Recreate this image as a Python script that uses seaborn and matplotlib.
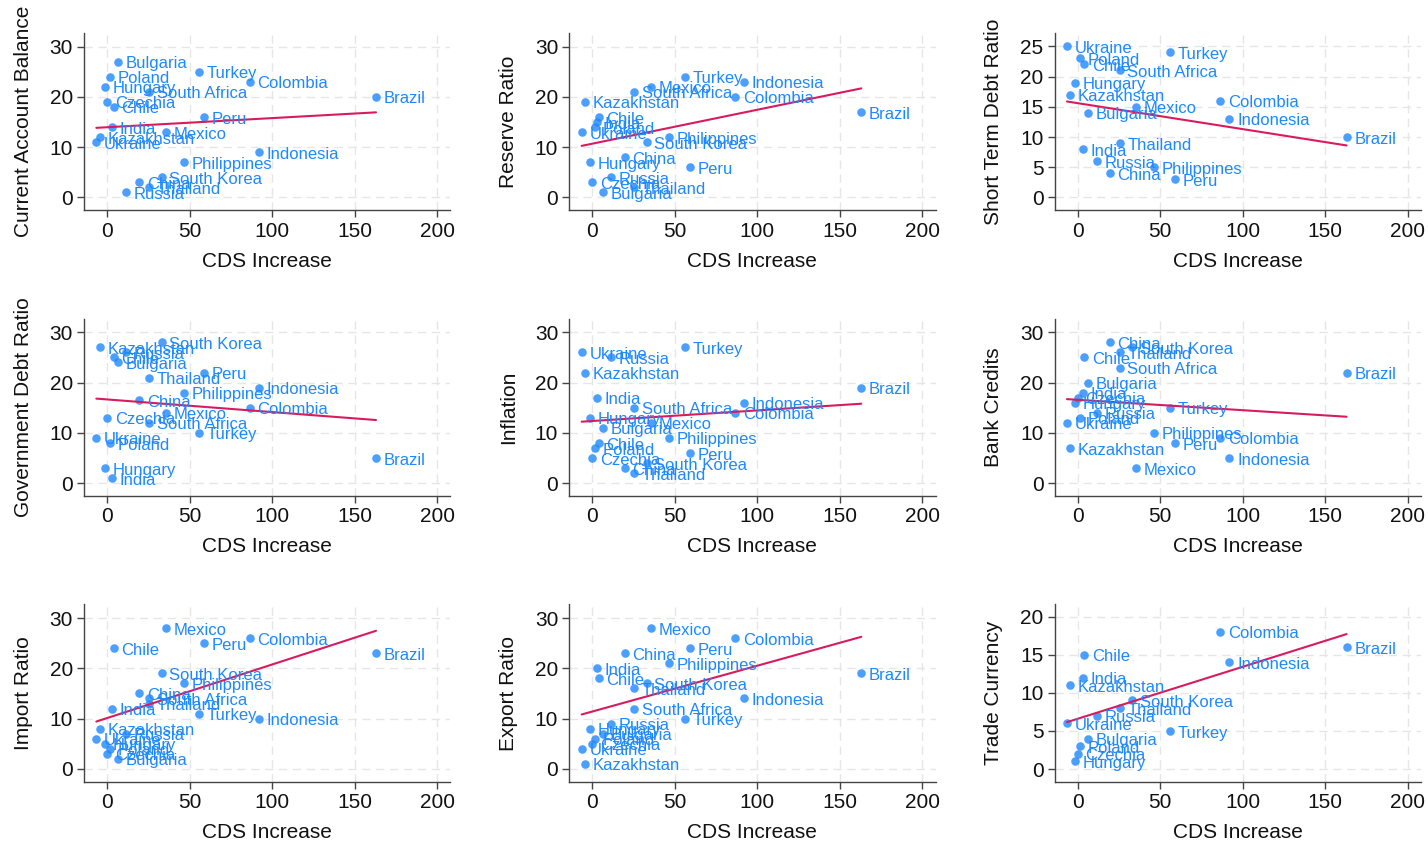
import numpy as np
import pandas as pd
import matplotlib
matplotlib.use("Agg")
import matplotlib.pyplot as plt
import seaborn as sns

countries = ["Brazil", "Bulgaria", "Chile", "China", "Colombia", "Czechia", "Hungary",
             "India", "Indonesia", "Kazakhstan", "Mexico", "Peru", "Philippines", "Poland",
             "Russia", "South Africa", "South Korea", "Thailand", "Turkey", "Ukraine"]
cds_increase = [163, 6.5, 4, 19.5, 86.5, 0, -1.5, 3, 92, -4.5, 35.5, 59, 46.5, 1.5,
                11.5, 25.5, 33, 25.5, 56, -6.5]

nan = np.nan
current_account = [20, 27, 18, 3, 23, 19, 22, 14, 9, 12, 13, 16, 7, 24, 1, 21, 4, 2, 25, 11]
reserve_ratio = [17, 1, 16, 8, 20, 3, 7, 15, 23, 19, 22, 6, 12, 14, 4, 21, 11, 2, 24, 13]
short_term_debt = [10, 14, 22, 4, 16, nan, 19, 8, 13, 17, 15, 3, 5, 23, 6, 21, nan, 9, 24, 25]
gov_debt = [5, 24, 25, 16.5, 15, 13, 3, 1, 19, 27, 14, 22, 18, 8, 26, 12, 28, 21, 10, 9]
inflation = [19, 11, 8, 3, 14, 5, 13, 17, 16, 22, 12, 6, 9, 7, 25, 15, 4, 2, 27, 26]
bank_credits = [22, 20, 25, 28, 9, 17, 16, 18, 5, 7, 3, 8, 10, 13, 14, 23, 27, 26, 15, 12]
import_ratio = [23, 2, 24, 15, 26, 3, 5, 12, 10, 8, 28, 25, 17, 4, 7, 14, 19, 13, 11, 6]
export_ratio = [19, 7, 18, 23, 26, 5, 8, 20, 14, 1, 28, 24, 21, 6, 9, 12, 17, 16, 10, 4]
trade_currency = [16, 4, 15, nan, 18, 2, 1, 12, 14, 11, nan, nan, nan, 3, 7, nan, 9, 8, 5, 6]

panels = [
    ("Current Account Balance", current_account, [0, 10, 20, 30], (-2.6, 32.7)),
    ("Reserve Ratio", reserve_ratio, [0, 10, 20, 30], (-2.6, 32.7)),
    ("Short Term Debt Ratio", short_term_debt, [0, 5, 10, 15, 20, 25], (-2.15, 27.2)),
    ("Government Debt Ratio", gov_debt, [0, 10, 20, 30], (-2.6, 32.7)),
    ("Inflation", inflation, [0, 10, 20, 30], (-2.6, 32.7)),
    ("Bank Credits", bank_credits, [0, 10, 20, 30], (-2.6, 32.7)),
    ("Import Ratio", import_ratio, [0, 10, 20, 30], (-2.6, 32.7)),
    ("Export Ratio", export_ratio, [0, 10, 20, 30], (-2.6, 32.7)),
    ("Trade Currency", trade_currency, [0, 5, 10, 15, 20], (-1.7, 21.6)),
]

sns.set_style("white")
plt.rcParams['font.family'] = ['Liberation Sans', 'DejaVu Sans']

point_color = "#1e88ff"
line_color = "#d81b5e"

fig, axes = plt.subplots(3, 3, figsize=(14.28, 8.46), dpi=100)
fig.subplots_adjust(left=0.0588, right=0.995, top=0.961, bottom=0.0757,
                    wspace=0.325, hspace=0.61)

for ax, (name, vals, yticks, ylim) in zip(axes.flat, panels):
    df = pd.DataFrame({"country": countries, "cds": cds_increase, "val": vals}).dropna()
    sns.regplot(data=df, x="cds", y="val", ax=ax, ci=None, truncate=True,
                scatter_kws={"s": 38, "color": point_color, "linewidths": 0, "zorder": 3},
                line_kws={"color": line_color, "lw": 1.5, "zorder": 4})
    for _, r in df.iterrows():
        ax.annotate(r["country"], (r["cds"], r["val"]), xytext=(5.5, -1.5),
                    textcoords="offset points", va="center", ha="left",
                    fontsize=12, color=point_color, zorder=5)
    ax.set_xlim(-14, 208)
    ax.set_ylim(*ylim)
    ax.set_xticks([0, 50, 100, 150, 200])
    ax.set_yticks(yticks)
    ax.set_xlabel("CDS Increase", fontsize=15, color="#111111", labelpad=8)
    ax.set_ylabel(name, fontsize=15, color="#111111", labelpad=12)
    ax.tick_params(axis="both", labelsize=15, direction="out", length=5, width=1,
                   color="#444444", labelcolor="#111111", left=True, bottom=True, pad=3)
    ax.grid(True, linestyle=(0, (6, 4)), color="#e6e6e6", lw=1)
    ax.set_axisbelow(True)
    for s in ["top", "right"]:
        ax.spines[s].set_visible(False)
    for s in ["left", "bottom"]:
        ax.spines[s].set_color("#444444")
        ax.spines[s].set_linewidth(1)

fig.savefig("out.png", dpi=100)
